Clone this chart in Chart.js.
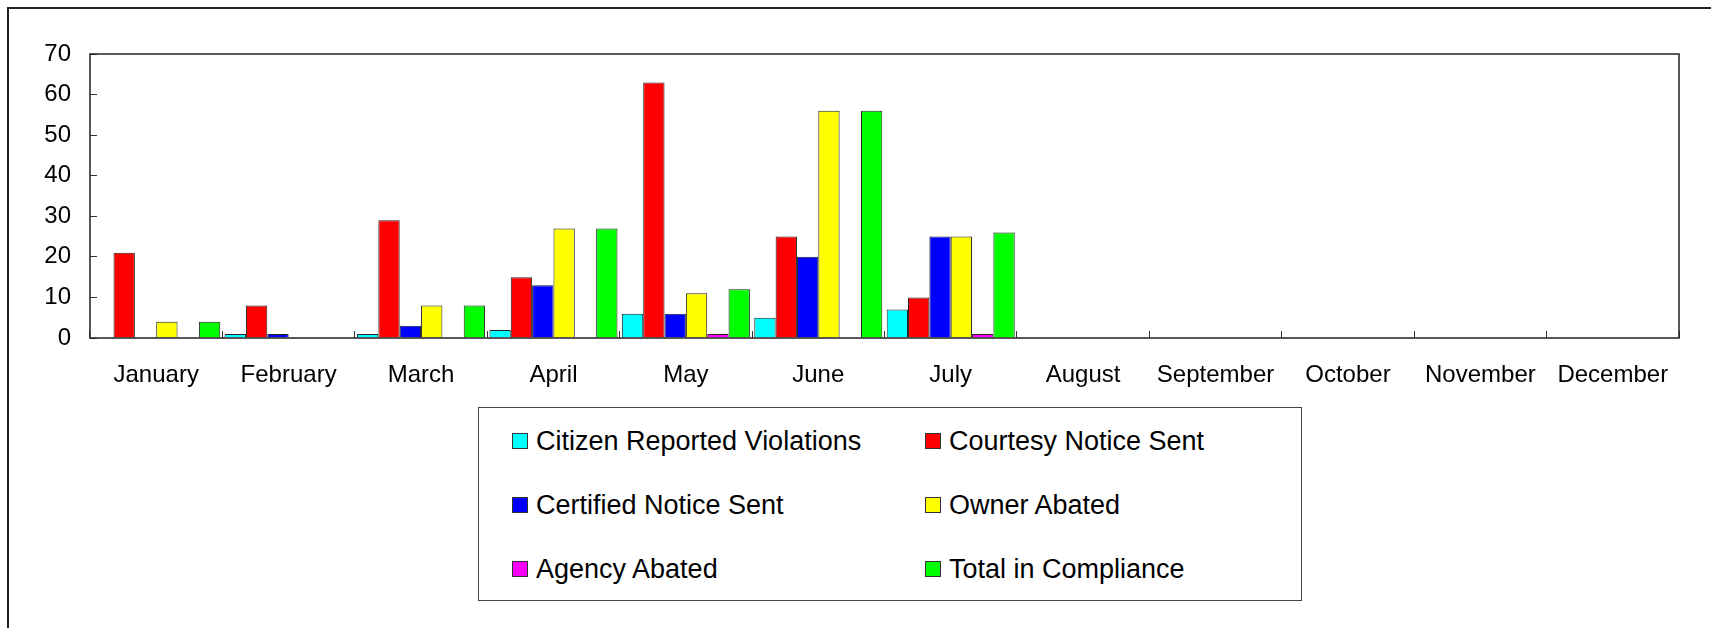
<!DOCTYPE html>
<html><head><meta charset="utf-8">
<script src="https://cdn.jsdelivr.net/npm/chart.js@4.4.0/dist/chart.umd.min.js"></script>
<style>
html,body{margin:0;padding:0;background:#fff;width:1711px;height:628px;overflow:hidden;}
#frame{position:absolute;left:7px;top:7px;width:1800px;height:700px;border-left:2px solid #222;border-top:2px solid #222;}
#wrap{position:absolute;left:0;top:0;width:1711px;height:628px;}
#legend{position:absolute;left:478px;top:407px;width:824px;height:194px;box-sizing:border-box;border:1px solid #444;background:#fff;font-family:'Liberation Sans',Arial,sans-serif;font-size:27px;color:#000;}
.item{position:absolute;display:flex;align-items:center;height:30px;white-space:nowrap;}
.sw{width:16px;height:16px;box-sizing:border-box;border:1px solid #333;margin-right:8px;flex:none;}
</style></head>
<body>
<div id="frame"></div>
<div id="wrap"><canvas id="c"></canvas></div>
<div id="legend"></div>
<script>
const categories = ["January","February","March","April","May","June","July","August","September","October","November","December"];
const citizenReported = [0,1,1,2,6,5,7,0,0,0,0,0];
const courtesyNotice  = [21,8,29,15,63,25,10,0,0,0,0,0];
const certifiedNotice = [0,1,3,13,6,20,25,0,0,0,0,0];
const ownerAbated     = [4,0,8,27,11,56,25,0,0,0,0,0];
const agencyAbated    = [0,0,0,0,1,0,1,0,0,0,0,0];
const totalCompliance = [4,0,8,27,12,56,26,0,0,0,0,0];
const seriesNames = ["Citizen Reported Violations","Courtesy Notice Sent","Certified Notice Sent","Owner Abated","Agency Abated","Total in Compliance"];
const seriesColors = ["#00FFFF","#FF0000","#0000FF","#FFFF00","#FF00FF","#00FF00"];
const yTicks = {min:0, max:70, step:10};

Chart.defaults.font.family = "'Liberation Sans', Arial, sans-serif";
Chart.defaults.color = "#000";

const seriesValues = [citizenReported, courtesyNotice, certifiedNotice, ownerAbated, agencyAbated, totalCompliance];
const datasets = seriesValues.map((vals, i) => ({
  label: seriesNames[i],
  data: vals,
  backgroundColor: seriesColors[i],
  borderColor: "#222",
  borderWidth: 1,
  categoryPercentage: 0.967,
  barPercentage: 1.0
}));

const plotBorder = {
  id: 'plotBorder',
  afterDatasetsDraw(chart) {
    const {ctx, chartArea: a} = chart;
    ctx.save();
    ctx.strokeStyle = '#222';
    ctx.lineWidth = 1.5;
    ctx.strokeRect(a.left, a.top, a.right - a.left, a.bottom - a.top);
    ctx.restore();
  }
};

const chart = new Chart(document.getElementById('c'), {
  type: 'bar',
  data: { labels: categories, datasets },
  plugins: [plotBorder],
  options: {
    responsive: true,
    maintainAspectRatio: false,
    animation: false,
    layout: { padding: { left: 0, right: 32, top: 54, bottom: 240 } },
    plugins: { legend: { display: false }, tooltip: { enabled: false } },
    scales: {
      x: {
        grid: { display: true, offset: true, drawOnChartArea: false, drawTicks: true, tickLength: -7, color: '#333', lineWidth: 1 },
        border: { display: false },
        ticks: { font: { size: 24 }, color: '#000', padding: 30, maxRotation: 0, autoSkip: false },
        afterFit: s => { s.height = 50; }
      },
      y: {
        min: yTicks.min, max: yTicks.max,
        ticks: { stepSize: yTicks.step, font: { size: 24 }, color: '#000', padding: 26 },
        grid: { drawOnChartArea: false, drawTicks: true, tickLength: -7, color: '#333', lineWidth: 1 },
        border: { display: false },
        afterFit: s => { s.width = 90; }
      }
    }
  }
});

// HTML legend built from the chart's own legend items
const legendEl = document.getElementById('legend');
const items = Chart.defaults.plugins.legend.labels.generateLabels(chart);
const colX = [33, 446];
const rowY = [18, 82, 146];
items.forEach((it, i) => {
  const d = document.createElement('div');
  d.className = 'item';
  d.style.left = colX[i % 2] + 'px';
  d.style.top = rowY[Math.floor(i / 2)] + 'px';
  const sw = document.createElement('span');
  sw.className = 'sw';
  sw.style.background = it.fillStyle;
  const t = document.createElement('span');
  t.textContent = it.text;
  d.appendChild(sw); d.appendChild(t);
  legendEl.appendChild(d);
});
</script>
</body></html>
